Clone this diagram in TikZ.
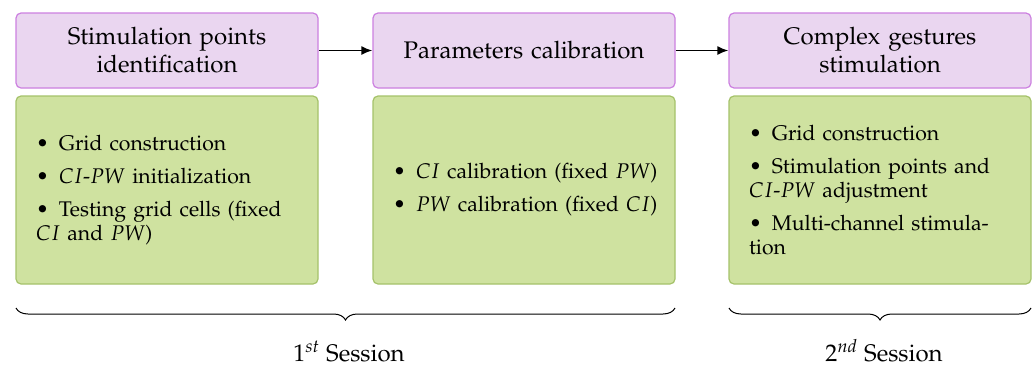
\documentclass[tikz,border=0pt]{standalone}
\usepackage[T1]{fontenc}
\usepackage{mathpazo}
\usetikzlibrary{arrows.meta,decorations.pathreplacing}
\definecolor{pfill}{HTML}{EAD6F0}
\definecolor{pdraw}{HTML}{CC80E0}
\definecolor{gfill}{HTML}{CFE2A0}
\definecolor{gdraw}{HTML}{A5C26A}
\tikzset{
  titlebox/.style={draw=pdraw, fill=pfill, line width=0.6pt, rounded corners=2.5pt,
    text width=131pt, inner xsep=10pt, inner ysep=2pt, align=center,
    minimum height=37.5pt, font=\large},
  listbox/.style={draw=gdraw, fill=gfill, line width=0.6pt, rounded corners=2.5pt,
    text width=131pt, inner xsep=10pt, inner ysep=2pt, align=left,
    minimum height=94pt, font=\fontsize{10.6}{12}\selectfont},
  flowarrow/.style={line width=0.9pt, -{Latex[length=5.5pt,width=4.5pt]}},
  sessionbrace/.style={line width=0.5pt, decorate,
    decoration={brace, mirror, amplitude=6pt}},
  sessionlabel/.style={font=\large, anchor=base}
}
\newcommand{\bitem}{\textbullet\hspace{5pt}}
\newcommand{\bsep}{\par\vspace{4.5pt}}
\hbadness=10000 \hfuzz=20pt
\begin{document}
\begin{tikzpicture}[x=0.5pt, y=-0.5pt]
\useasboundingbox (0,0) rectangle (1033,365);
\node[titlebox] (t1) at (167,50.5) {Stimulation points\\ identification};
\node[titlebox] (t2) at (524,50.5) {Parameters calibration};
\node[titlebox] (t3) at (880,50.5) {Complex gestures\\ stimulation};
\node[listbox] (g1) at (167,190) {\bitem Grid construction\bsep
  \bitem $CI$-$PW$ initialization\bsep
  \bitem Testing grid cells (fixed\\ $CI$ and $PW$)};
\node[listbox] (g2) at (524,190) {\mbox{\bitem $CI$ calibration (fixed $PW$)}\bsep
  \mbox{\bitem $PW$ calibration (fixed $CI$)}};
\node[listbox] (g3) at (880,190) {\bitem Grid construction\bsep
  \bitem Stimulation points and\\ $CI$-$PW$ adjustment\bsep
  \bitem Multi-channel stimula-\\tion};
\draw[flowarrow] (t1.east) -- (t2.west);
\draw[flowarrow] (t2.east) -- (t3.west);
\coordinate (b1s) at (16,308);
\coordinate (b1e) at (675,308);
\coordinate (b2s) at (729,308);
\coordinate (b2e) at (1031,308);
\draw[sessionbrace] (b1s) -- (b1e);
\draw[sessionbrace] (b2s) -- (b2e);
\node[sessionlabel] (s1) at (349,361) {$1^{st}$ Session};
\node[sessionlabel] (s2) at (884,361) {$2^{nd}$ Session};
\end{tikzpicture}
\end{document}
